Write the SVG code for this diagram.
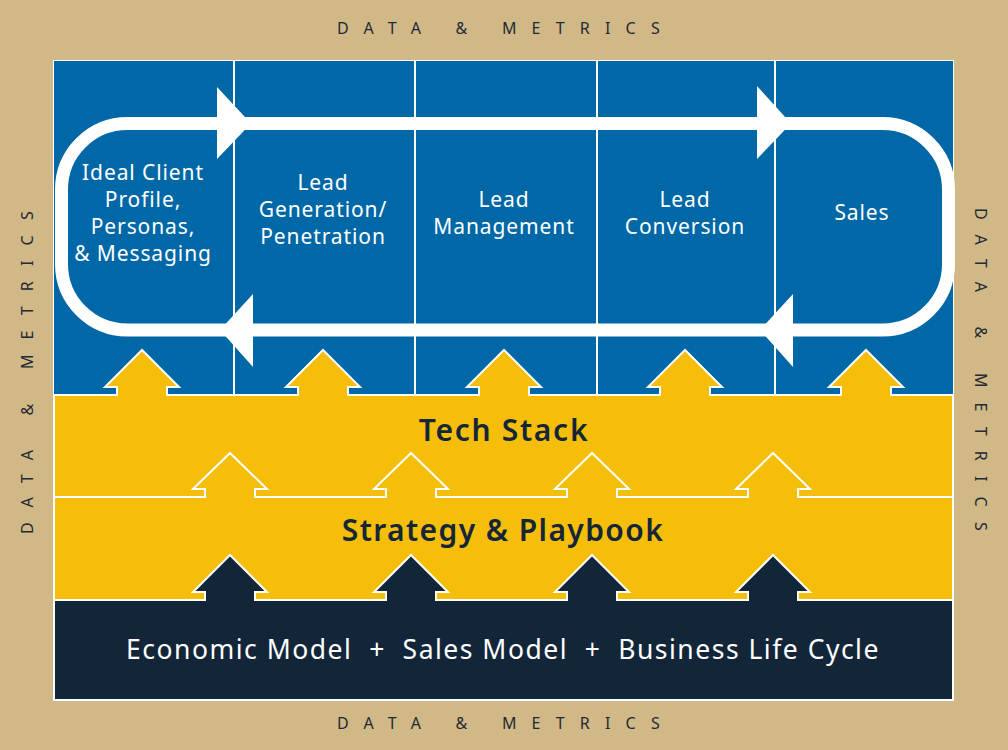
<svg xmlns="http://www.w3.org/2000/svg" width="1008" height="750" viewBox="0 0 1008 750">
<style>
.dm{font-family:"Noto Sans","Liberation Sans",sans-serif;font-size:16px;letter-spacing:15.2px;fill:#1f2a36}
.lbl{font-family:"Noto Sans","Liberation Sans",sans-serif;font-size:21px;letter-spacing:0.9px;fill:#ffffff;text-anchor:middle}
.band{font-family:"Noto Sans","Liberation Sans",sans-serif;font-weight:600;font-size:30px;fill:#142638;text-anchor:middle}
.base{font-family:"Noto Sans","Liberation Sans",sans-serif;font-size:26.5px;letter-spacing:1.5px;fill:#ffffff;text-anchor:middle}
.div{stroke:#ffffff;stroke-width:2}
.head{fill:#ffffff}
</style>
<rect x="0" y="0" width="1008" height="750" fill="#D1B887"/>
<g id="frame">
<rect x="53" y="60" width="901" height="641" fill="#ffffff"/>
<rect x="54" y="61" width="899" height="334" fill="#0068A6"/>
<line class="div" x1="234" y1="61" x2="234" y2="395"/>
<line class="div" x1="415" y1="61" x2="415" y2="395"/>
<line class="div" x1="597" y1="61" x2="597" y2="395"/>
<line class="div" x1="775" y1="61" x2="775" y2="395"/>
</g>
<g id="tech-stack">
<path d="M54,395 L117,395 L117,387 L105,387 L142,350 L179,387 L167,387 L167,395 L298,395 L298,387 L286,387 L323,350 L360,387 L348,387 L348,395 L479,395 L479,387 L467,387 L504,350 L541,387 L529,387 L529,395 L660,395 L660,387 L648,387 L685,350 L722,387 L710,387 L710,395 L841,395 L841,387 L829,387 L866,350 L903,387 L891,387 L891,395 L953,395 L953,497 L54,497 Z" fill="#F5BE0A" stroke="#ffffff" stroke-width="2"/>
<text class="band" x="504" y="441" style="letter-spacing:1.7px">Tech Stack</text>
</g>
<g id="strategy">
<path d="M54,497 L205,497 L205,489 L193,489 L230,453 L267,489 L255,489 L255,497 L386,497 L386,489 L374,489 L411,453 L448,489 L436,489 L436,497 L567,497 L567,489 L555,489 L592,453 L629,489 L617,489 L617,497 L748,497 L748,489 L736,489 L773,453 L810,489 L798,489 L798,497 L953,497 L953,600 L54,600 Z" fill="#F5BE0A" stroke="#ffffff" stroke-width="2"/>
<text class="band" x="503" y="541" style="letter-spacing:1.4px">Strategy &amp; Playbook</text>
</g>
<g id="foundation">
<path d="M54,600 L205,600 L205,592 L193,592 L230,555 L267,592 L255,592 L255,600 L386,600 L386,592 L374,592 L411,555 L448,592 L436,592 L436,600 L567,600 L567,592 L555,592 L592,555 L629,592 L617,592 L617,600 L748,600 L748,592 L736,592 L773,555 L810,592 L798,592 L798,600 L953,600 L953,700 L54,700 Z" fill="#132639" stroke="#ffffff" stroke-width="2"/>
<text class="base" x="503" y="659" xml:space="preserve">Economic Model  +  Sales Model  +  Business Life Cycle</text>
</g>
<g id="connectors">
<rect x="61.5" y="123.5" width="887" height="206.5" rx="66" fill="none" stroke="#ffffff" stroke-width="13"/>
<polygon class="head" points="217,87 251,123.5 217,159"/>
<polygon class="head" points="757,86 791,123.5 757,159"/>
<polygon class="head" points="253,294 220,330 253,367"/>
<polygon class="head" points="793,294 760,330 793,367"/>
</g>
<g id="ideal-client">
<text class="lbl" x="143" y="180">Ideal Client</text>
<text class="lbl" x="143" y="207">Profile,</text>
<text class="lbl" x="143" y="234">Personas,</text>
<text class="lbl" x="143" y="261">&amp; Messaging</text>
</g>
<g id="lead-generation">
<text class="lbl" x="323" y="190">Lead</text>
<text class="lbl" x="323" y="217">Generation/</text>
<text class="lbl" x="323" y="244">Penetration</text>
</g>
<g id="lead-management">
<text class="lbl" x="504" y="207">Lead</text>
<text class="lbl" x="504" y="234">Management</text>
</g>
<g id="lead-conversion">
<text class="lbl" x="685" y="207">Lead</text>
<text class="lbl" x="685" y="234">Conversion</text>
</g>
<g id="sales">
<text class="lbl" x="862" y="220">Sales</text>
</g>
<g id="data-metrics">
<text class="dm" x="337" y="34">DATA &amp; METRICS</text>
<text class="dm" x="337" y="729">DATA &amp; METRICS</text>
<text class="dm" transform="translate(33,534) rotate(-90)">DATA &amp; METRICS</text>
<text class="dm" transform="translate(975,208) rotate(90)">DATA &amp; METRICS</text>
</g>
</svg>
